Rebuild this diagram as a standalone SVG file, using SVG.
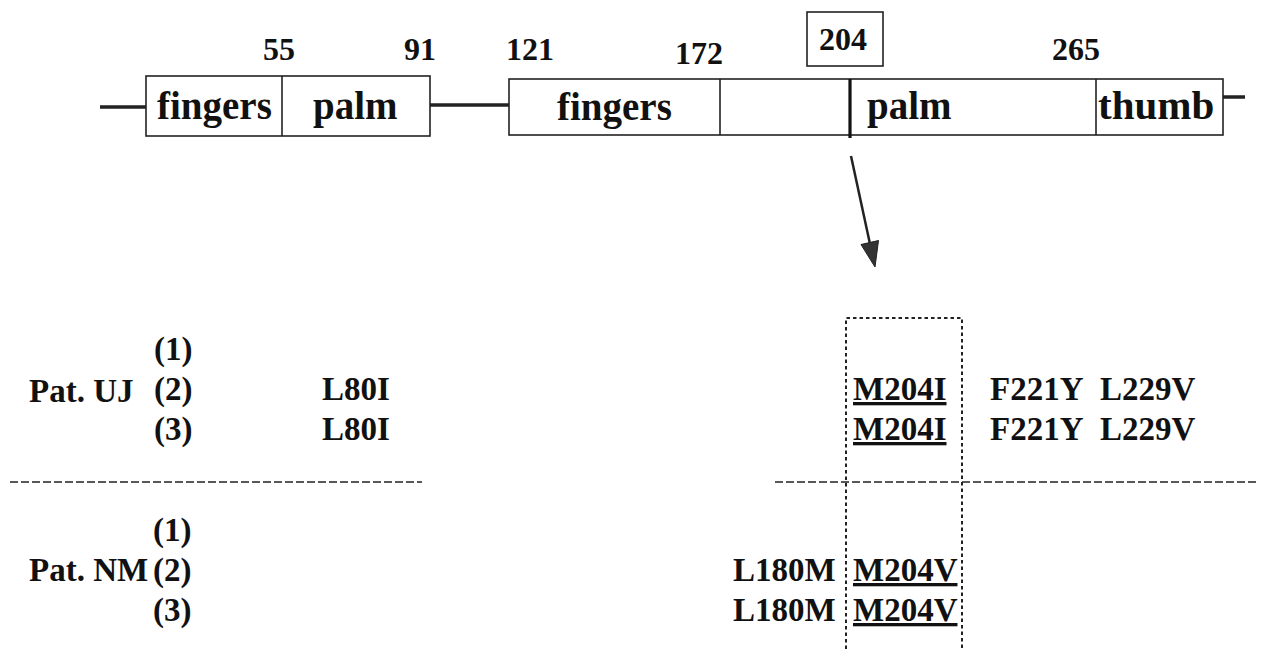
<svg xmlns="http://www.w3.org/2000/svg" width="1285" height="649" viewBox="0 0 1285 649">
<style>
text{font-family:"Liberation Serif","Times New Roman",serif;font-weight:bold;fill:#111}
.num{font-size:32px;text-anchor:middle}
.dom{font-size:39px}
.lab{font-size:33px}
.box{fill:#fff;stroke:#222;stroke-width:1.6}
.div{stroke:#222;stroke-width:1.6}
.link{stroke:#222;stroke-width:3.5;fill:none}
.dash{stroke:#222;stroke-width:1.6;stroke-dasharray:8 3;fill:none}
.vdash{stroke:#222;stroke-width:2;stroke-dasharray:3.5 3;fill:none}
.ul{text-decoration:underline}
.head{fill:#333;stroke:#222;stroke-width:1}
</style>
<rect width="1285" height="649" fill="#fff"/>

<g id="connectors">
<line class="link" x1="100" y1="107" x2="146" y2="107"/>
<line class="link" x1="430" y1="105" x2="509" y2="105"/>
<line class="link" x1="1223" y1="97" x2="1245" y2="97"/>
<line x1="851" y1="156" x2="870" y2="244" stroke="#222" stroke-width="2.5"/>
<polygon class="head" points="875,267 878.5,240.5 861,244.5"/>
<line class="dash" x1="10" y1="482" x2="422" y2="482"/>
<line class="dash" x1="775" y1="482" x2="1258" y2="482"/>
</g>

<g id="domain1">
<rect class="box" x="146" y="76" width="284" height="60"/>
<line class="div" x1="282" y1="76" x2="282" y2="136"/>
<text class="dom" x="157" y="119">fingers</text>
<text class="dom" x="313" y="119">palm</text>
</g>

<g id="domain2">
<rect class="box" x="509" y="79" width="714" height="56"/>
<line class="div" x1="720" y1="79" x2="720" y2="135"/>
<line x1="850" y1="79" x2="850" y2="138" stroke="#111" stroke-width="3.2"/>
<line class="div" x1="1096" y1="79" x2="1096" y2="135"/>
<text class="dom" x="557" y="120">fingers</text>
<text class="dom" x="867" y="119">palm</text>
<text class="dom" x="1098" y="119" style="font-size:41px">thumb</text>
</g>

<g id="positions">
<text class="num" x="279" y="60">55</text>
<text class="num" x="420" y="60">91</text>
<text class="num" x="530" y="60">121</text>
<text class="num" x="699" y="64">172</text>
<text class="num" x="1076" y="60">265</text>
</g>

<g id="pos204">
<rect x="807" y="12" width="76" height="54" fill="#fff" stroke="#222" stroke-width="1.6"/>
<text class="num" x="843" y="50">204</text>
</g>

<g id="highlight204">
<path class="vdash" d="M846,649 V318 H962 V649"/>
</g>

<g id="patUJ">
<text class="lab" x="29" y="402">Pat. UJ</text>
<text class="lab" x="154" y="360">(1)</text>
<text class="lab" x="154" y="400">(2)</text>
<text class="lab" x="154" y="440">(3)</text>
<text class="lab" x="322" y="400">L80I</text>
<text class="lab" x="322" y="440">L80I</text>
<text class="lab ul" x="853" y="400">M204I</text>
<text class="lab ul" x="853" y="440">M204I</text>
<text class="lab" x="990" y="400">F221Y</text>
<text class="lab" x="990" y="440">F221Y</text>
<text class="lab" x="1100" y="400">L229V</text>
<text class="lab" x="1100" y="440">L229V</text>
</g>

<g id="patNM">
<text class="lab" x="29" y="581">Pat. NM</text>
<text class="lab" x="153" y="541">(1)</text>
<text class="lab" x="153" y="581">(2)</text>
<text class="lab" x="153" y="621">(3)</text>
<text class="lab" x="733" y="581">L180M</text>
<text class="lab" x="733" y="621">L180M</text>
<text class="lab ul" x="853" y="581">M204V</text>
<text class="lab ul" x="853" y="621">M204V</text>
</g>
</svg>
